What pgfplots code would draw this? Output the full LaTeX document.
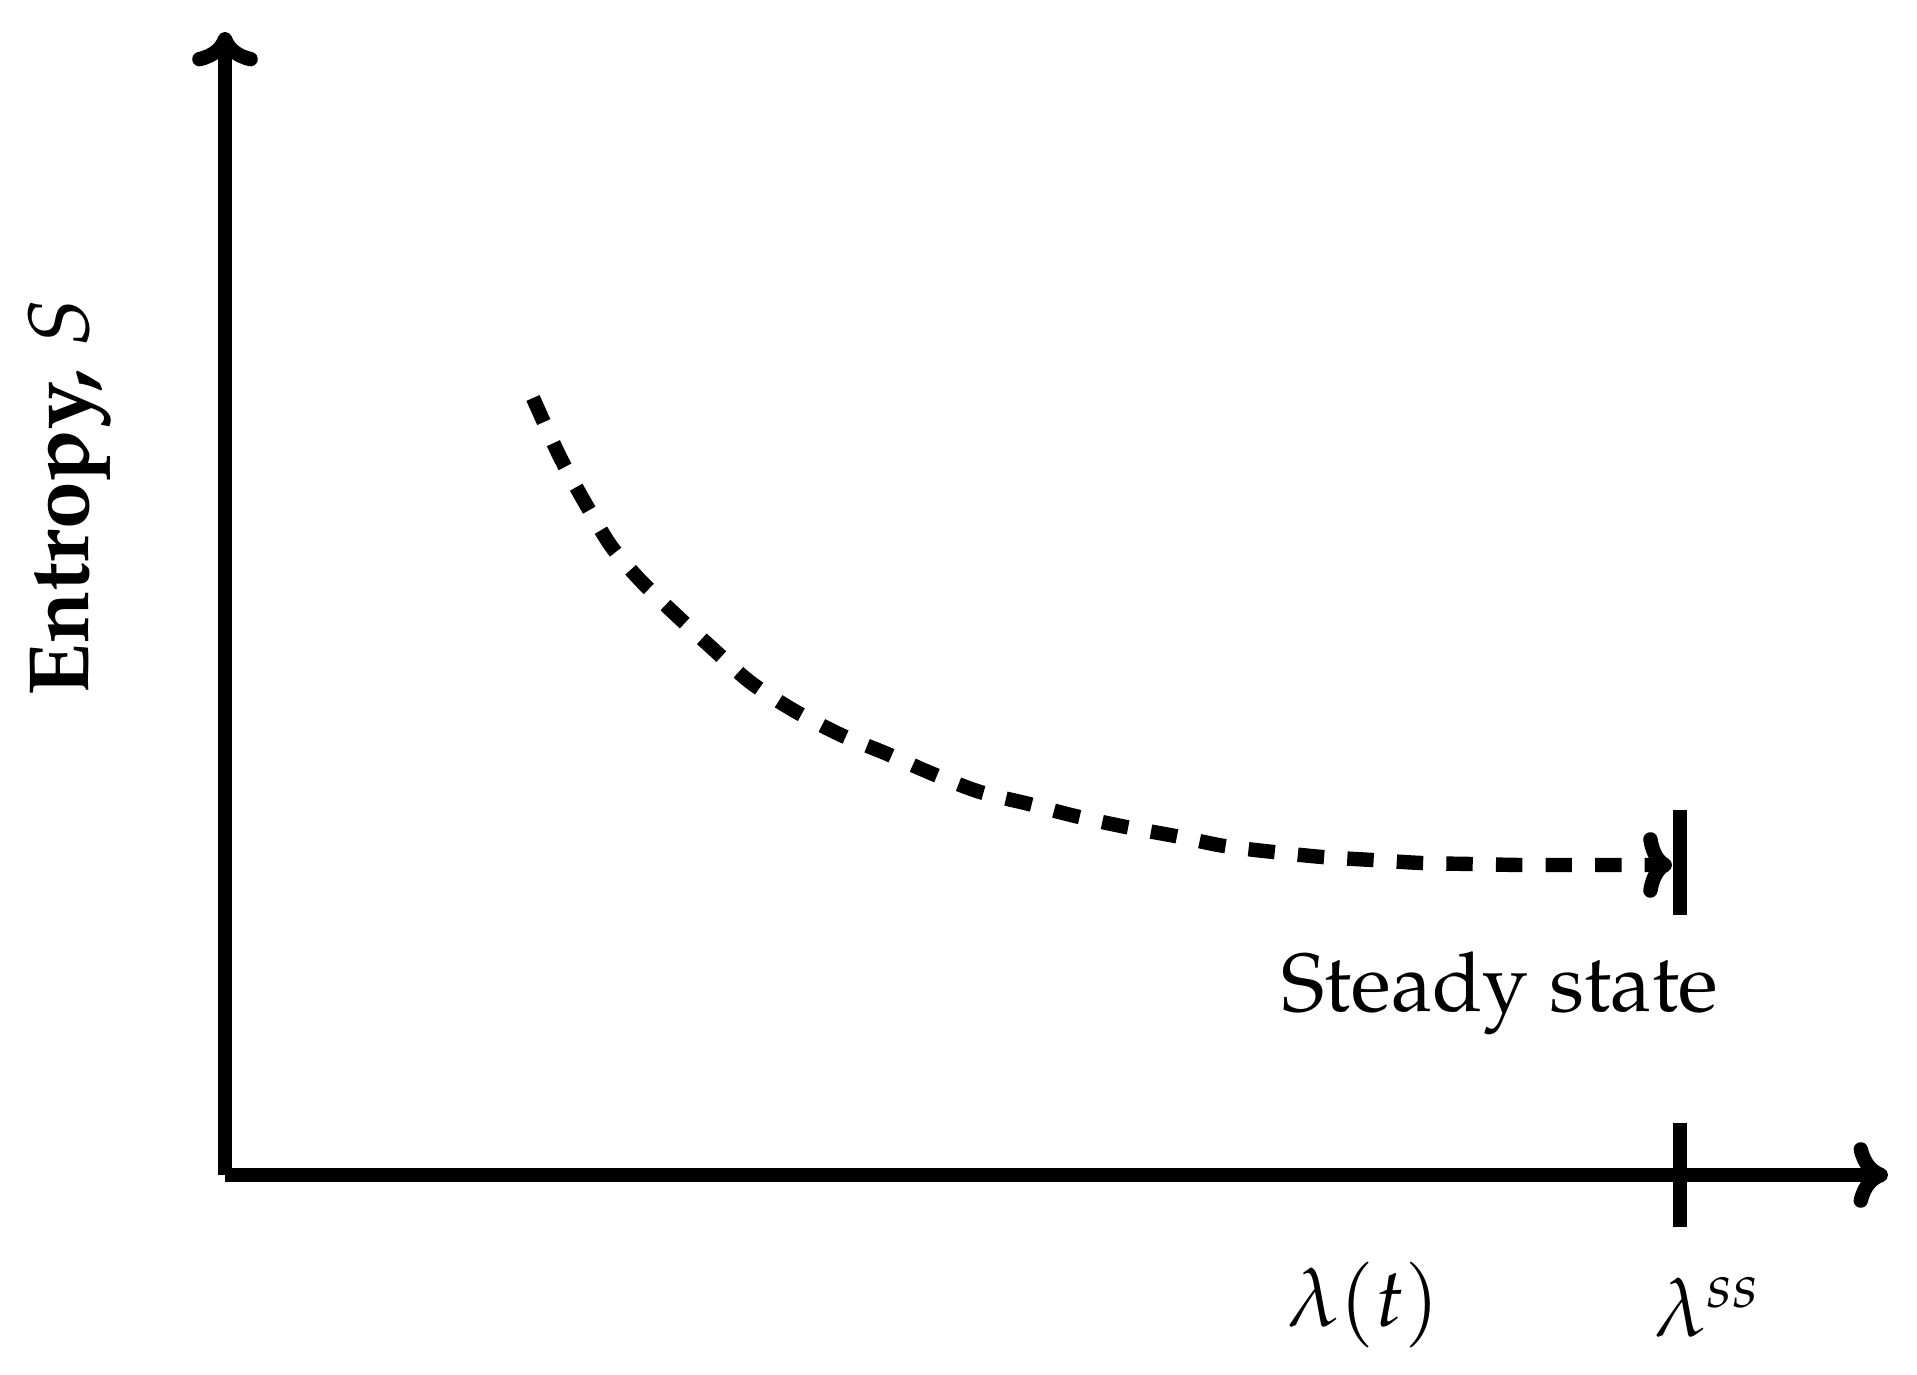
\documentclass[border=0pt]{standalone}
\usepackage{mathpazo}
\usepackage[T1]{fontenc}
\usepackage{pgfplots}
\pgfplotsset{compat=1.18}
\usetikzlibrary{arrows.meta}
\begin{document}
\fontsize{10.3}{12}\selectfont
\begin{tikzpicture}
\begin{axis}[
  at={(0pt,0pt)}, anchor=south west,
  width=207.875pt, height=142.875pt, scale only axis,
  xmin=0, xmax=1663, ymin=0, ymax=1143,
  axis lines=left,
  axis line style={black, line width=1.8pt, -{Computer Modern Rightarrow[length=4.3pt,width=8.2pt]}},
  xtick={1455}, xticklabels={}, ytick=\empty,
  major tick length=13.1pt, tick align=center,
  tick style={black, line width=1.8pt},
  clip=false,
]
\addplot[black, line width=1.8pt, dash pattern=on 3.3pt off 2.9pt, smooth,
  -{Computer Modern Rightarrow[length=3.6pt,width=8.2pt]}] coordinates {
(308,777) (334,720) (359,674) (386,629) (415,595) (451,560) (488,526)
(525,493) (568,465) (616,440) (660,422) (708,401) (755,383) (804,371)
(850,359) (901,348) (950,339) (999,329) (1048,323) (1097,318) (1147,315)
(1196,312) (1245,311) (1294,310) (1343,310) (1392,310) (1447,310)};
\addplot[black, line width=1.8pt] coordinates {(1455,260) (1455,365)};
\node[anchor=base west, inner sep=0pt] at (axis cs:1055,163) {Steady state};
\node[anchor=base, inner sep=0pt] at (axis cs:1139,-152) {$\lambda(t)$};
\node[anchor=base west, inner sep=0pt] at (axis cs:1428,-162) {$\lambda^{ss}$};
\node[anchor=base, rotate=90, inner sep=0pt, font=\fontsize{10.7}{12}\selectfont] at (axis cs:-137,678) {\textbf{Entropy,} $S$};
\end{axis}
\pgfresetboundingbox
\path[use as bounding box] (-28.125pt,-25pt) rectangle (211.5pt,146.875pt);
\end{tikzpicture}
\end{document}
